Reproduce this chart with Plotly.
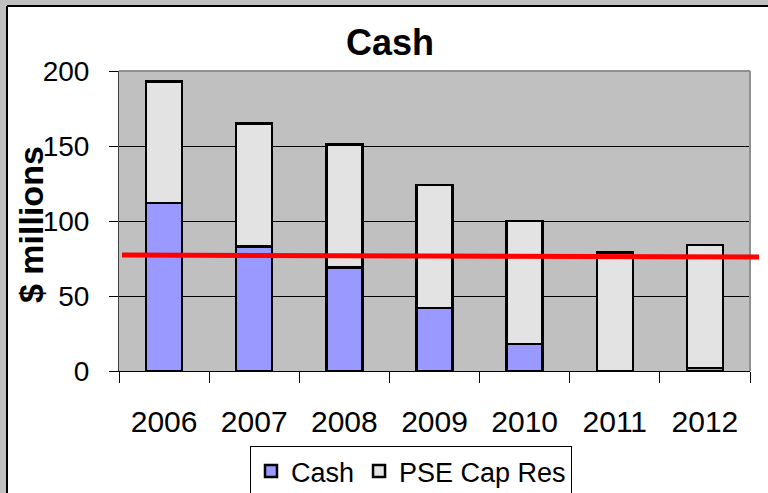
import plotly.graph_objects as go

years = ["2006", "2007", "2008", "2009", "2010", "2011", "2012"]
cash = [112, 83, 69, 42, 18, 0, 2]
pse_cap_res = [81, 82, 82, 82, 82, 79, 82]
threshold = [77.3, 76.0]  # red line, left and right ends
y_ticks = [0, 50, 100, 150, 200]

W, H = 768, 493
L, R, T, B = 119, 18, 71, 122
pw, ph = W - L - R, H - T - B

def px_x(p):
    return (p - L) / pw

def px_y(p):
    return (H - B - p) / ph

FONT = "Liberation Sans, Arial, sans-serif"

fig = go.Figure()
fig.add_trace(go.Bar(x=years, y=cash, name="Cash",
                     marker=dict(color="#9999FF", line=dict(color="black", width=2.5))))
fig.add_trace(go.Bar(x=years, y=pse_cap_res, name="PSE Cap Res",
                     marker=dict(color="#E3E3E3", line=dict(color="black", width=2.5))))

shapes = [
    dict(type="rect", xref="paper", yref="paper", x0=px_x(0), x1=px_x(7), y0=px_y(H), y1=px_y(0),
         fillcolor="#C0C0C0", line=dict(width=0), layer="below"),
    dict(type="rect", xref="paper", yref="paper", x0=px_x(0), x1=px_x(W), y0=px_y(6), y1=px_y(0),
         fillcolor="#C0C0C0", line=dict(width=0), layer="below"),
    dict(type="line", xref="paper", yref="paper", x0=px_x(7), x1=px_x(7), y0=px_y(H), y1=px_y(6),
         line=dict(color="black", width=2)),
    dict(type="line", xref="paper", yref="paper", x0=px_x(7), x1=px_x(W), y0=px_y(6), y1=px_y(6),
         line=dict(color="black", width=2)),
    dict(type="line", xref="paper", yref="paper", x0=0, x1=1, y0=1, y1=1,
         line=dict(color="#909090", width=2)),
    dict(type="line", xref="paper", yref="paper", x0=1, x1=1, y0=0, y1=1,
         line=dict(color="#909090", width=2)),
    dict(type="line", xref="paper", yref="y", x0=px_x(122), x1=px_x(759),
         y0=threshold[0], y1=threshold[1], line=dict(color="#FF0000", width=5)),
]

fig.update_layout(
    width=W, height=H,
    margin=dict(l=L, r=R, t=T, b=B, autoexpand=False),
    paper_bgcolor="white",
    plot_bgcolor="#C0C0C0",
    barmode="stack",
    bargap=0.6,
    font=dict(family=FONT, color="black"),
    title=dict(text="<b>Cash</b>", x=390 / W, xanchor="center", y=1 - 42 / H, yanchor="middle",
               font=dict(size=36, family=FONT, color="black")),
    showlegend=True,
    legend=dict(orientation="h", x=px_x(411), xanchor="center", y=px_y(446), yanchor="top",
                bgcolor="white", bordercolor="black", borderwidth=1,
                font=dict(size=27, family=FONT), itemwidth=30, traceorder="normal"),
    shapes=shapes,
    annotations=[dict(text="<b>$ millions</b>", xref="paper", yref="paper",
                      x=px_x(31), y=px_y(225), xanchor="center", yanchor="middle",
                      textangle=-90, showarrow=False, font=dict(size=34, family=FONT))],
)
fig.update_xaxes(type="category", tickson="boundaries", ticks="outside", ticklen=11,
                 tickcolor="black", showline=True, linecolor="black", linewidth=1,
                 showgrid=False, tickfont=dict(size=30, family=FONT), ticklabelstandoff=24,
                 automargin=False)
fig.update_yaxes(range=[0, 200], tickvals=y_ticks, ticks="outside", ticklen=9, tickcolor="black",
                 showline=True, linecolor="#404040", linewidth=1,
                 showgrid=True, gridcolor="black", gridwidth=1, zeroline=False,
                 tickfont=dict(size=28, family=FONT), ticklabelstandoff=14, automargin=False)

fig.write_html("out.html", config={"displayModeBar": False},
               post_script="document.body.style.margin='0';document.body.style.overflow='hidden';")
